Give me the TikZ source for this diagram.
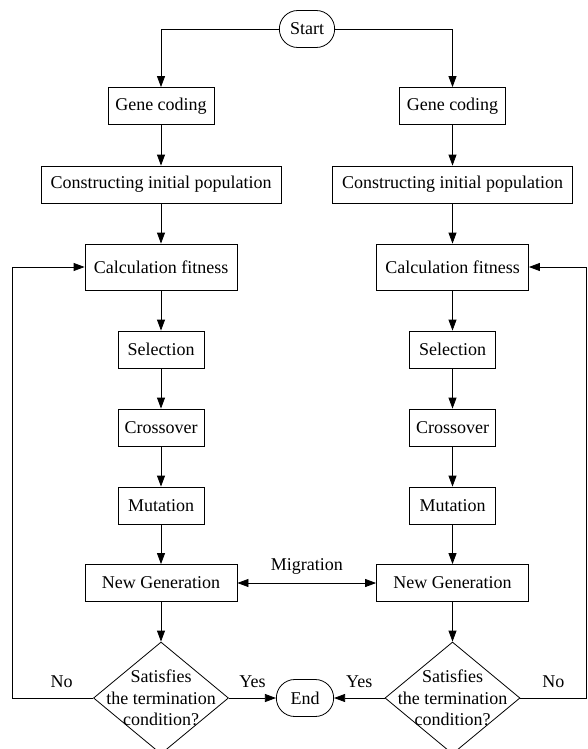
\documentclass[tikz,border=0pt]{standalone}
\usepackage{fontspec}
\setmainfont{LiberationSerif}[Extension=.ttf, UprightFont=*-Regular, BoldFont=*-Bold, ItalicFont=*-Italic, BoldItalicFont=*-BoldItalic]
\usetikzlibrary{positioning}
\usetikzlibrary{arrows.meta}
\usetikzlibrary{shapes.geometric}
\usetikzlibrary{shapes.misc}

\begin{document}
\begin{tikzpicture}[%
  >={Triangle[length=11pt,width=8pt]},
  x=1pt, y=-1pt,
  line width=0.8pt,
  font=\rmfamily\fontsize{18}{21.5}\selectfont,
  proc/.style={draw, rectangle, minimum height=37pt, inner xsep=6pt},
  small/.style={proc, minimum width=86pt},
  wide/.style={proc, minimum width=152pt},
  term/.style={draw, rounded rectangle, minimum height=37pt, minimum width=62pt},
  decide/.style={draw, diamond, minimum width=135pt, minimum height=112pt, inner sep=0pt},
  cond/.style={label={[align=center]center:{Satisfies\\the termination\\condition?}}},
  % yscale=0.8,
]

  \useasboundingbox (0,0) rectangle (587,749);

  \node[term] (start) at (307,29) {Start};
  \node[term, minimum width=64pt] (end) at (305,698) {End};

  % left island
  \node[proc, minimum width=106pt] (codeL) at (161,106) {Gene coding};
  \node[proc, minimum width=240pt] (initL) at (161,184.5) {Constructing initial population};
  \node[wide, minimum height=46pt] (fitL) at (161,267) {Calculation fitness};
  \node[small] (selL) at (161,349.5) {Selection};
  \node[small] (crossL) at (161,427.5) {Crossover};
  \node[small] (mutL) at (161,505.5) {Mutation};
  \node[wide] (genL) at (161,583) {New Generation};
  \node[decide, cond] (testL) at (161,698) {};

  % right island
  \node[proc, minimum width=106pt] (codeR) at (452.5,106) {Gene coding};
  \node[proc, minimum width=240pt] (initR) at (452.5,184.5) {Constructing initial population};
  \node[wide, minimum height=46pt] (fitR) at (452.5,267) {Calculation fitness};
  \node[small] (selR) at (452.5,349.5) {Selection};
  \node[small] (crossR) at (452.5,427.5) {Crossover};
  \node[small] (mutR) at (452.5,505.5) {Mutation};
  \node[wide] (genR) at (452.5,583) {New Generation};
  \node[decide, cond] (testR) at (452.5,698) {};

  \draw[->] (start.west) -| (codeL.north);
  \draw[->] (start.east) -| (codeR.north);

  \draw[->] (codeL) -- (initL);
  \draw[->] (initL) -- (fitL);
  \draw[->] (fitL) -- (selL);
  \draw[->] (selL) -- (crossL);
  \draw[->] (crossL) -- (mutL);
  \draw[->] (mutL) -- (genL);
  \draw[->] (genL) -- (testL);

  \draw[->] (codeR) -- (initR);
  \draw[->] (initR) -- (fitR);
  \draw[->] (fitR) -- (selR);
  \draw[->] (selR) -- (crossR);
  \draw[->] (crossR) -- (mutR);
  \draw[->] (mutR) -- (genR);
  \draw[->] (genR) -- (testR);

  \draw[<->] (genL) -- node[above=5pt] {Migration} (genR);

  \draw[->] (testL.east) -- node[above=7pt] {Yes} (end.west);
  \draw[->] (testR.west) -- node[above=7pt] {Yes} (end.east);

  \draw[->] (testL.west) -- node[above=7pt, pos=0.39] {No} ++(-80.5,0) |- (fitL.west);
  \draw[->] (testR.east) -- node[above=7pt] {No} ++(66,0) |- (fitR.east);

\end{tikzpicture}
\end{document}
